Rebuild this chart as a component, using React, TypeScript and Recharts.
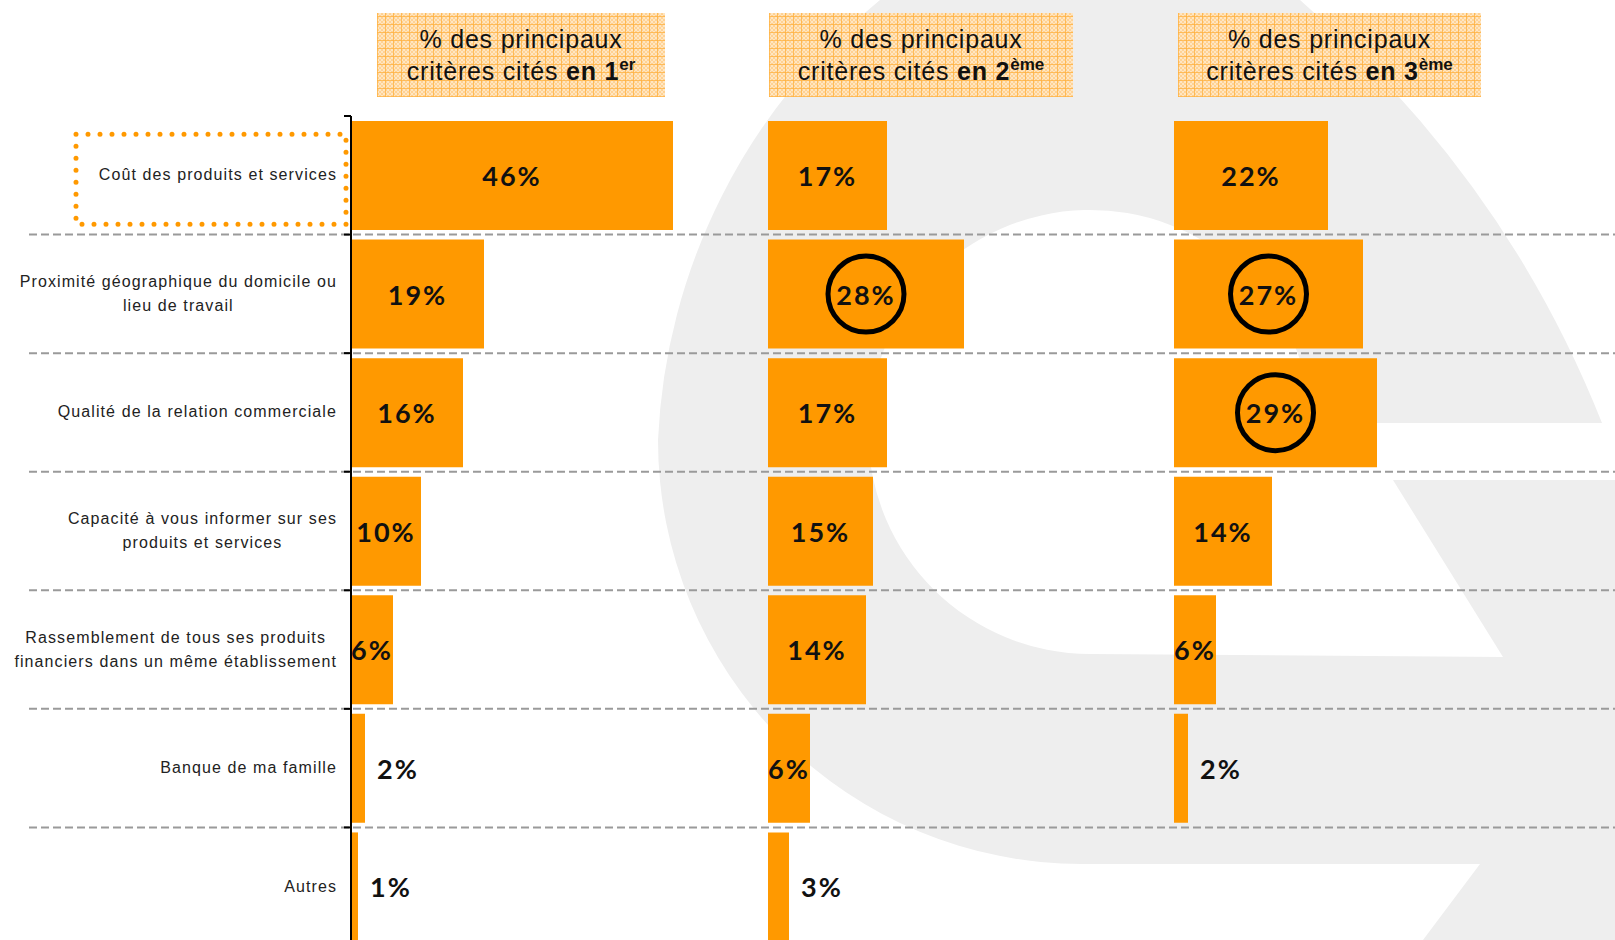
// Classement des critères de choix d'une banque : 1er, 2ème et 3ème critère cité
import React from "react";
import { BarChart, Bar, XAxis, YAxis, LabelList } from "recharts";

const criteria = [
  "Coût des produits et services",
  "Proximité géographique du domicile ou\nlieu de travail",
  "Qualité de la relation commerciale",
  "Capacité à vous informer sur ses\nproduits et services",
  "Rassemblement de tous ses produits\nfinanciers dans un même établissement",
  "Banque de ma famille",
  "Autres",
];
const firstChoice = [46, 19, 16, 10, 6, 2, 1];
const secondChoice = [17, 28, 17, 15, 14, 6, 3];
const thirdChoice: (number | null)[] = [22, 27, 29, 14, 6, 2, null];

const rankNumbers = ["1", "2", "3"];
const rankSuffixes = ["er", "ème", "ème"];
// rows circled in black, per panel
const circledFirst: number[] = [];
const circledSecond = [1];
const circledThird = [1, 2];
// criterion framed with the orange dotted box
const boxedCriteria = [0];

const rows = criteria.map((name, i) => ({
  name,
  first: firstChoice[i],
  second: secondChoice[i],
  third: thirdChoice[i],
}));

const W = 1615;
const H = 940;
const CHART_H = 950;
const TOP = 116;
const BOTTOM = 4;
const BAND = (CHART_H - TOP - BOTTOM) / criteria.length;
const PLOT_W = 350; // 0..50 % -> 7 px per point
const ORANGE = "#FF9900";

const CriteriaTick = (props: any) => {
  const { y, payload, index } = props;
  const half = BAND / 2;
  const last = index === criteria.length - 1;
  return (
    <g>
      <line x1={344} x2={351} y1={y - half} y2={y - half} stroke="#000" strokeWidth={2} />
      {last && <line x1={344} x2={351} y1={y + half} y2={y + half} stroke="#000" strokeWidth={2} />}
      {!last && (
        <line
          x1={29}
          x2={W}
          y1={y + half}
          y2={y + half}
          stroke="#9a9a9a"
          strokeWidth={2}
          strokeDasharray="8 4"
        />
      )}
      {boxedCriteria.includes(index) && (
        <rect
          x={76}
          y={y - 41}
          width={270}
          height={90}
          fill="none"
          stroke={ORANGE}
          strokeWidth={5}
          strokeDasharray="0 12"
          strokeLinecap="round"
        />
      )}
      <foreignObject x={0} y={y - 50} width={337} height={100}>
        <div
          style={{
            height: "100%",
            display: "flex",
            alignItems: "center",
            justifyContent: "flex-end",
          }}
        >
          <div
            style={{
              textAlign: "center",
              whiteSpace: "pre-line",
              fontFamily: "'Liberation Sans', Arial, sans-serif",
              fontSize: 16,
              letterSpacing: 1.1,
              lineHeight: "24px",
              color: "#222",
            }}
          >
            {payload.value}
          </div>
        </div>
      </foreignObject>
    </g>
  );
};

const makeValueLabel = (circled: number[]) => (props: any) => {
  const { x, y, width, height, value, index } = props;
  if (value == null || x == null) return null;
  const cy = Number(y) + Number(height) / 2;
  const inside = value >= 5;
  const mid = Number(x) + Number(width) / 2;
  const tx = inside ? mid : Number(x) + Number(width) + 12;
  return (
    <g>
      <text
        x={tx}
        y={cy}
        textAnchor={inside ? "middle" : "start"}
        dominantBaseline="central"
        fontFamily="Lato, 'DejaVu Sans', sans-serif"
        fontWeight={700}
        fontSize={27}
        letterSpacing={2}
        fill="#111"
      >
        {value}%
      </text>
      {circled.includes(index) && (
        <circle cx={mid} cy={cy} r={38} fill="none" stroke="#000" strokeWidth={5} />
      )}
    </g>
  );
};

const Panel = ({
  dataKey,
  left,
  circled,
  withAxis,
}: {
  dataKey: string;
  left: number;
  circled: number[];
  withAxis?: boolean;
}) => {
  const width = withAxis ? W : PLOT_W + 60;
  const margin = withAxis
    ? { top: TOP, bottom: BOTTOM, left: 0, right: W - 351 - PLOT_W }
    : { top: TOP, bottom: BOTTOM, left: 0, right: 60 };
  return (
    <div style={{ position: "absolute", left, top: 0 }}>
      <BarChart
        width={width}
        height={CHART_H}
        data={rows}
        layout="vertical"
        margin={margin}
        barCategoryGap={5}
      >
        <XAxis type="number" domain={[0, 50]} hide />
        {withAxis ? (
          <YAxis
            type="category"
            dataKey="name"
            width={351}
            interval={0}
            axisLine={{ stroke: "#000", strokeWidth: 2 }}
            tickLine={false}
            tick={CriteriaTick}
          />
        ) : (
          <YAxis type="category" dataKey="name" hide />
        )}
        <Bar dataKey={dataKey} fill={ORANGE} isAnimationActive={false}>
          <LabelList dataKey={dataKey} content={makeValueLabel(circled)} />
        </Bar>
      </BarChart>
    </div>
  );
};

const headerBoxes = [
  { left: 377, width: 288 },
  { left: 769, width: 304 },
  { left: 1178, width: 303 },
];

const Header = ({ i }: { i: number }) => (
  <div
    style={{
      position: "absolute",
      left: headerBoxes[i].left,
      top: 13,
      width: headerBoxes[i].width,
      height: 84,
      backgroundColor: "#FFD9A3",
      backgroundImage:
        "repeating-linear-gradient(0deg, rgba(255,176,60,0.75) 0 1px, transparent 1px 8px)," +
        "repeating-linear-gradient(90deg, rgba(255,176,60,0.75) 0 1px, transparent 1px 8px)," +
        "repeating-conic-gradient(#FFE6C2 0 25%, #FFD294 0 50%)",
      backgroundSize: "auto, auto, 4px 4px",
      display: "flex",
      flexDirection: "column",
      justifyContent: "center",
      alignItems: "center",
      fontFamily: "'Liberation Sans', Arial, sans-serif",
      fontSize: 25,
      letterSpacing: 0.8,
      lineHeight: "32px",
      color: "#111",
      paddingTop: 4,
      boxSizing: "border-box",
    }}
  >
    <div>% des principaux</div>
    <div>
      critères cités <b>en {rankNumbers[i]}</b>
      <b style={{ fontSize: 17, position: "relative", top: -10, letterSpacing: 0 }}>
        {rankSuffixes[i]}
      </b>
    </div>
  </div>
);

export default function App() {
  return (
    <div
      style={{
        position: "absolute",
        left: 0,
        top: 0,
        width: W,
        height: H,
        overflow: "hidden",
        background: "#fff",
      }}
    >
      {/* logo watermark */}
      <svg width={W} height={H} style={{ position: "absolute", left: 0, top: 0 }}>
        <path
          d="M 1082 864 A 424 424 0 0 1 658 440 A 600 600 0 0 1 880 0 L 1300 0 Q 1505 178 1602 423 L 1312 423 A 222 222 0 1 0 1090 654 L 1503 657 L 1393 480 L 1615 480 L 1615 940 L 1423 940 L 1480 864 Z"
          fill="#eeeeee"
        />
      </svg>
      <Panel dataKey="second" left={768} circled={circledSecond} />
      <Panel dataKey="third" left={1174} circled={circledThird} />
      <Panel dataKey="first" left={0} circled={circledFirst} withAxis />
      {[0, 1, 2].map((i) => (
        <Header key={i} i={i} />
      ))}
    </div>
  );
}
